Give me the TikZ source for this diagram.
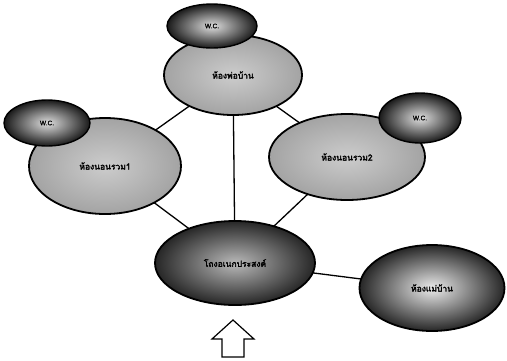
\documentclass[tikz,border=0pt]{standalone}
\usepackage{fontspec}
\newfontfamily\thaifont[Script=Thai,FakeBold=2.5]{Loma}
\newfontfamily\wcfont[FakeBold=1.5]{Liberation Sans}
\usetikzlibrary{shapes.geometric,backgrounds}
\begin{document}
\begin{tikzpicture}[x=1pt,y=-1pt,
  room/.style={ellipse,draw=black,line width=1.8pt,inner sep=0pt,
    font=\thaifont\fontsize{8.5}{9}\selectfont,
    shading=radial,inner color=gray!40,outer color=gray!72},
  darkroom/.style={room,inner color=gray!30,outer color=black!85},
  wc/.style={ellipse,draw=black,line width=1.4pt,inner sep=0pt,
    font=\wcfont\fontsize{6.5}{7}\selectfont,
    shading=radial,inner color=white!75!gray,outer color=black!90},
  link/.style={draw=black,line width=1.3pt},
  arrowshape/.style={draw=black,line width=1.2pt,fill=white,line join=miter}]
\useasboundingbox (0,0) rectangle (507,360);
% main rooms
\node[room,minimum width=138pt,minimum height=80pt] (top) at (233,75) {ห้องพ่อบ้าน};
\node[room,minimum width=152pt,minimum height=96pt] (left) at (105,166) {ห้องนอนรวม1};
\node[room,minimum width=156pt,minimum height=86pt] (right) at (347,157) {ห้องนอนรวม2};
\node[darkroom,minimum width=160pt,minimum height=84pt,inner color=gray!55] (center) at (235,263) {โถงอเนกประสงค์};
\node[darkroom,minimum width=145pt,minimum height=86pt,inner color=gray!15] (maid) at (432,288) {ห้องแม่บ้าน};
% W.C.
\node[wc,minimum width=90pt,minimum height=44pt] (wctop) at (212,26) {W.C.};
\node[wc,minimum width=86pt,minimum height=46pt] (wcleft) at (47,123) {W.C.};
\node[wc,minimum width=82pt,minimum height=50pt] (wcright) at (420,118) {W.C.};
% entrance arrow
\draw[arrowshape] (233,320) -- (254,339) -- (244,339) -- (244,357) -- (222,357) -- (222,339) -- (212,339) -- cycle;
% connectors
\begin{pgfonlayer}{background}
\draw[link] (left.center) -- (top.center);
\draw[link] (top.center) -- (right.center);
\draw[link] (top.center) -- (center.center);
\draw[link] (left.center) -- (center.center);
\draw[link] (right.center) -- (center.center);
\draw[link] (center.center) -- (maid.center);
\end{pgfonlayer}
\end{tikzpicture}
\end{document}
